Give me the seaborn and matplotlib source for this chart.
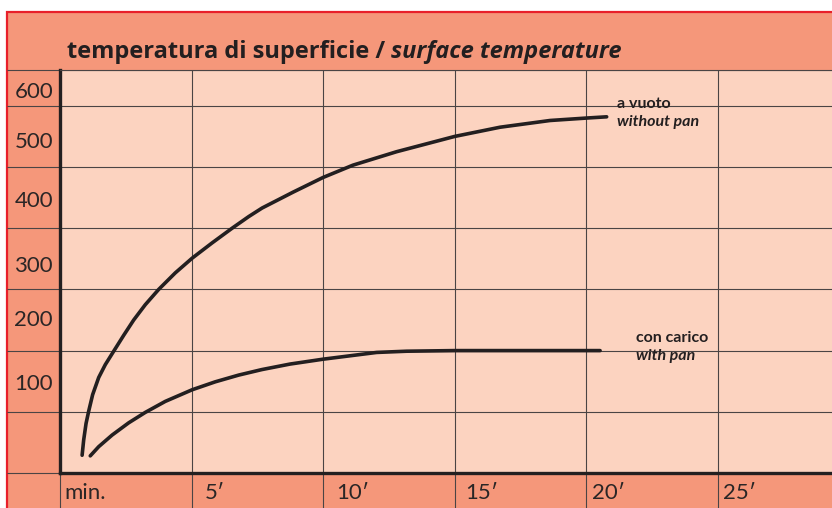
import matplotlib
matplotlib.use("Agg")
import matplotlib.pyplot as plt
from matplotlib.patches import Rectangle
import seaborn as sns

# curves (minutes, grid units where one band = 100)
t_empty = [0.84, 0.90, 0.99, 1.09, 1.24, 1.47, 1.72, 2.04, 2.42, 2.80, 3.24,
           3.75, 4.38, 5.02, 5.78, 6.54, 7.17, 7.68, 8.86, 10.0, 11.13,
           12.79, 15.0, 16.72, 18.62, 20.01, 20.77]
temp_empty = [29, 54, 81, 101, 128, 156, 177, 199, 225, 250, 275,
              300, 327, 351, 376, 400, 419, 433, 459, 483, 503,
              525, 550, 565, 576, 580, 582]

t_pan = [1.15, 1.47, 1.98, 2.61, 3.24, 4.0, 5.02, 5.90, 6.79, 7.67, 8.74,
         10.0, 12.03, 13.17, 15.0, 20.01, 20.52]
temp_pan = [28, 43, 62, 82, 99, 117, 136, 149, 160, 169, 178,
            186, 197, 199, 200, 200, 200]

grid_y = [0, 100, 200, 300, 400, 500, 600]
grid_x = [0, 5, 10, 15, 20, 25]

ylabels = ["600", "500", "400", "300", "200", "100"]
ylabel_pos = [625, 544, 447, 341, 254, 149]
xlabels = ["min.", "5\u2032", "10\u2032", "15\u2032", "20\u2032", "25\u2032"]
xlabel_pos = [0.15, 5.5, 10.5, 15.4, 20.2, 25.2]

band = "#F5977A"
paper = "#FCD3C0"
ink = "#231F20"
gridc = "#4a4444"

sns.set_style("ticks", {"axes.facecolor": paper, "axes.edgecolor": ink})
plt.rcParams["font.family"] = ["Lato", "DejaVu Sans"]

W, H = 832, 508
fig = plt.figure(figsize=(W / 100, H / 100), dpi=100)
fig.patch.set_facecolor("white")

# salmon frame with red border
fig.add_artist(Rectangle((7 / W, -0.1), 1.2, (H - 12.5) / H + 0.1,
                         transform=fig.transFigure, facecolor=band,
                         edgecolor="#E8202A", lw=1.6, zorder=0))

left, bottom, top = 60, 473, 70
ax = fig.add_axes([left / W, (H - bottom) / H, (W - left) / W, (bottom - top) / H])
ax.set_xlim(0, (W - left) / 26.32)
ax.set_ylim(0, (bottom - top) / 0.612)

sns.lineplot(x=t_empty, y=temp_empty, ax=ax, color=ink, lw=2.6,
             solid_capstyle="round", solid_joinstyle="round", legend=False)
sns.lineplot(x=t_pan, y=temp_pan, ax=ax, color=ink, lw=2.6,
             solid_capstyle="round", solid_joinstyle="round", legend=False)

# grid lines as minor ticks so they run through the label bands
ax.set_yticks(grid_y + [ax.get_ylim()[1]], minor=True)
ax.set_xticks(grid_x, minor=True)
ax.grid(which="minor", color=gridc, lw=0.8)
ax.tick_params(axis="y", which="minor", length=53 * 0.72, width=0.8, color=gridc)
ax.tick_params(axis="x", which="minor", length=36 * 0.72, width=0.8, color=gridc)

ax.set_yticks(ylabel_pos, ylabels)
ax.set_xticks(xlabel_pos, xlabels, ha="left")
ax.tick_params(axis="both", which="major", length=0, labelsize=16, labelcolor="#2a2626")
ax.tick_params(axis="y", which="major", pad=5)
ax.tick_params(axis="x", which="major", pad=7)

for s in ["left", "bottom"]:
    ax.spines[s].set_linewidth(2.4)
    ax.spines[s].set_color(ink)
ax.spines["top"].set_linewidth(0.8)
ax.spines["top"].set_color(gridc)
ax.spines["right"].set_visible(False)

# curve labels
ax.text(21.16, 603, "a vuoto", fontsize=11.5, fontweight="bold", color=ink, va="center")
ax.text(21.16, 573, "without pan", fontsize=11.5, fontweight="bold", style="italic",
        color=ink, va="center")
ax.text(21.88, 221, "con carico", fontsize=11.5, fontweight="bold", color=ink, va="center")
ax.text(21.88, 191, "with pan", fontsize=11.5, fontweight="bold", style="italic",
        color=ink, va="center")

# title in two styles
tfont = ["Open Sans", "DejaVu Sans"]
t1 = fig.text(67 / W, 1 - 52 / H, "temperatura di superficie / ", fontsize=17,
              family=tfont, fontweight="bold", color=ink, va="center", ha="left")
fig.canvas.draw()
bb = t1.get_window_extent()
fig.text(bb.x1 / W, 1 - 52 / H, "surface temperature", fontsize=17, family=tfont,
         fontweight="bold", style="italic", color=ink, va="center", ha="left")

plt.savefig("out.png", dpi=100)
